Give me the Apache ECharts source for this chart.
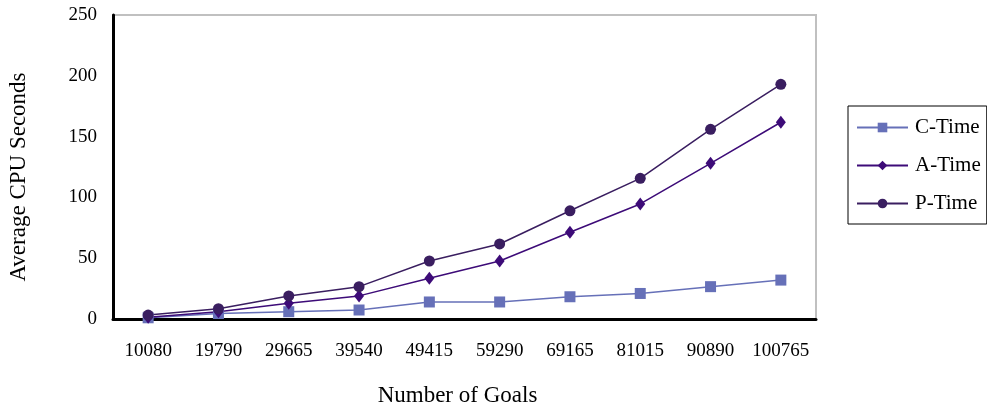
<!DOCTYPE html>
<html>
<head>
<meta charset="utf-8">
<script src="https://cdn.jsdelivr.net/npm/echarts@6/dist/echarts.min.js"></script>
<style>
  html, body { margin: 0; padding: 0; background: #fff; }
  #chart { width: 987px; height: 405px; }
</style>
</head>
<body>
<div id="chart"></div>
<script>
// Problem sizes (number of goals)
const goals = ['10080', '19790', '29665', '39540', '49415', '59290', '69165', '81015', '90890', '100765'];

// Average CPU seconds per phase
const cTime = [1, 4.5, 6, 7.4, 14, 14, 18.3, 21, 26.6, 32];
const aTime = [1.5, 6, 12.9, 19, 33.5, 47.7, 71.3, 94.6, 128, 161.8];
const pTime = [3.2, 8.5, 19, 26.6, 47.7, 61.7, 89, 115.7, 156, 193];

const yTicks = [0, 50, 100, 150, 200, 250];

const serif = '"Liberation Serif", "DejaVu Serif", serif';

const chart = echarts.init(document.getElementById('chart'));

function lineSeries(name, data, color, symbol, size) {
  return {
    name: name,
    type: 'line',
    data: data,
    symbol: symbol,
    symbolSize: size,
    lineStyle: { color: color, width: 1.5 },
    itemStyle: { color: color },
    emphasis: { disabled: true },
    z: 3
  };
}

chart.setOption({
  animation: false,
  backgroundColor: '#fff',
  grid: {
    left: 113, top: 15, right: 171, bottom: 86,
    containLabel: false,
    outerBoundsMode: 'none',
    show: true, borderColor: '#c0c0c0', borderWidth: 2, backgroundColor: 'transparent'
  },
  legend: {
    orient: 'vertical',
    left: 848, top: 106,
    padding: [11, 6, 10, 8],
    itemGap: 17,
    itemWidth: 51,
    itemHeight: 12,
    borderColor: '#000', borderWidth: 1,
    textStyle: { fontFamily: serif, fontSize: 21, color: '#000', padding: [0, 0, 0, 2] },
    data: ['C-Time', 'A-Time', 'P-Time']
  },
  xAxis: {
    type: 'category',
    data: goals,
    boundaryGap: true,
    name: 'Number of Goals',
    nameLocation: 'middle',
    nameGap: 65,
    nameTextStyle: { fontFamily: serif, fontSize: 23, color: '#000', padding: [0, 14, 0, 0] },
    axisLine: { lineStyle: { color: '#000', width: 3 } },
    axisTick: { show: false },
    axisLabel: { fontFamily: serif, fontSize: 19, color: '#000', margin: 23, interval: 0 },
    splitLine: { show: false }
  },
  yAxis: {
    type: 'value',
    min: yTicks[0], max: yTicks[yTicks.length - 1], interval: 50,
    name: 'Average CPU Seconds',
    nameLocation: 'middle',
    nameGap: 83,
    nameTextStyle: { fontFamily: serif, fontSize: 23, color: '#000', padding: [0, 20, 0, 0] },
    axisLine: { show: true, lineStyle: { color: '#000', width: 3 } },
    axisTick: { show: false },
    axisLabel: { fontFamily: serif, fontSize: 19, color: '#000', margin: 16 },
    splitLine: { show: false }
  },
  series: [
    lineSeries('C-Time', cTime, '#6670b8', 'rect', 11),
    lineSeries('A-Time', aTime, '#3d0b78', 'diamond', [10, 13]),
    lineSeries('P-Time', pTime, '#3a1e60', 'circle', 11)
  ]
});
</script>
</body>
</html>
